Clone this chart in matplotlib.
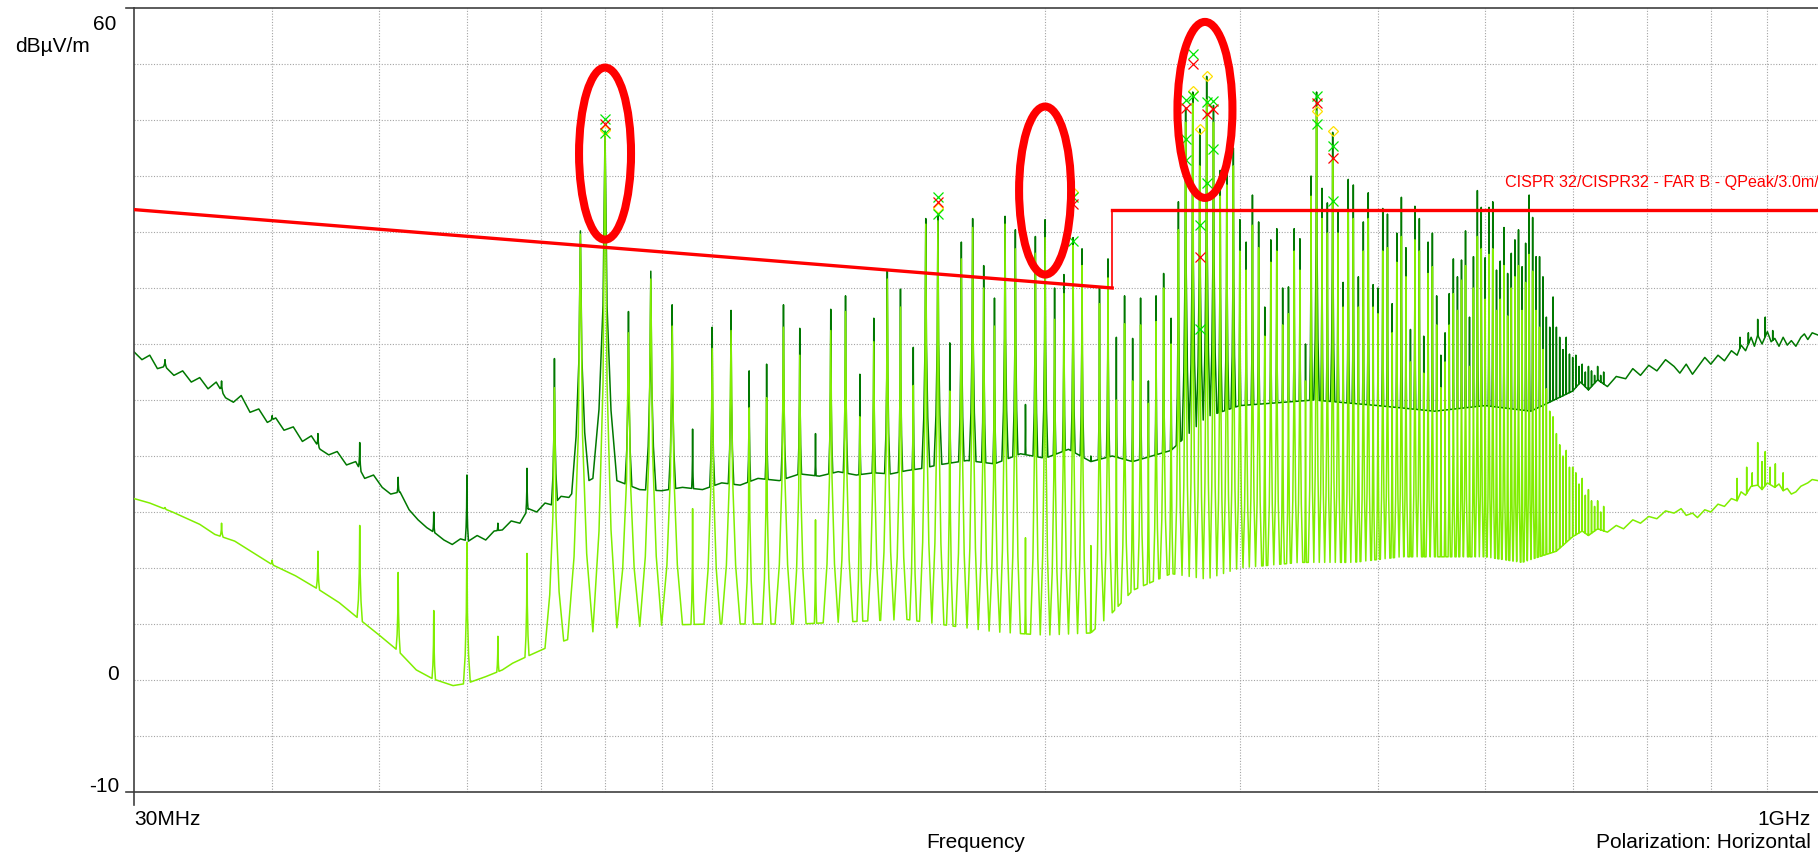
"""
Radiated emission scan 30 MHz - 1 GHz (horizontal polarization) against the CISPR 32 FAR class B limit.
"""
import numpy as np
import matplotlib
matplotlib.use("Agg")
import matplotlib.pyplot as plt
from matplotlib.patches import Ellipse
from matplotlib.transforms import ScaledTranslation, blended_transform_factory

plt.rcParams['font.family'] = ['Liberation Sans', 'DejaVu Sans']

# ---- data (MHz / dBuV/m) ----
limit_f = [30, 230, 230, 1000]
limit_db = [42.0, 35.0, 42.0, 42.0]

# background level of the peak trace (dark green)
pk_floor_f = [30.0, 30.5, 31.0, 31.5, 32.0, 32.6, 33.2, 33.8, 34.4, 35.0,
              35.6, 36.3, 36.9, 37.5, 38.2, 38.9, 39.6, 40.3, 41.0, 41.8,
              42.6, 43.4, 44.2, 45.0, 45.8, 46.7, 47.6, 48.5, 49.4, 50.3,
              51.2, 52.2, 53.2, 54.2, 55.2, 56.2, 57.2, 58.2, 59.2, 60.2,
              61.3, 62.4, 63.5, 64.6, 65.8, 67.0, 68.2, 69.4, 70.6, 71.8,
              73.0, 74.2, 75.4, 78.0, 82.0, 86.0, 90.0, 94.0, 98.0, 102.0,
              106.0, 110.0, 115.0, 120.0, 125.0, 130.0, 135.0, 140.0, 145.0, 150.0,
              155.0, 160.0, 170.0, 180.0, 190.0, 200.0, 210.0, 220.0, 230.0, 240.0,
              260.0, 280.0, 300.0, 350.0, 400.0, 450.0, 500.0, 550.0, 600.0, 610.0,
              620.0, 632.0, 645.0, 657.0, 670.0, 680.0, 691.0, 703.0, 715.0, 728.0,
              741.0, 750.0, 760.0, 770.0, 778.0, 790.0, 800.0, 812.0, 823.0, 835.0,
              845.0, 852.0, 860.0, 870.0, 876.0, 882.0, 890.0, 900.0, 907.0, 914.0,
              922.0, 930.0, 938.0, 946.0, 955.0, 965.0, 972.0, 979.0, 988.0, 1000.0]
pk_floor_db = [29.3, 28.6, 29.0, 27.8, 28.0, 27.2, 27.6, 26.6, 27.0, 26.0,
               26.6, 25.2, 24.8, 25.4, 23.9, 24.2, 23.0, 23.4, 22.3, 22.6,
               21.3, 21.8, 20.6, 20.1, 20.4, 19.2, 19.5, 18.0, 18.3, 17.2,
               16.6, 16.8, 15.2, 14.3, 13.6, 13.1, 12.5, 12.1, 12.6, 12.4,
               12.9, 12.5, 13.3, 13.4, 14.2, 14.0, 15.3, 15.0, 15.8, 15.6,
               16.4, 16.3, 17.2, 18.0, 17.8, 17.0, 16.9, 17.2, 17.0, 17.6,
               17.4, 18.0, 17.8, 18.4, 18.2, 18.6, 18.3, 18.5, 18.4, 18.7,
               18.9, 19.2, 19.6, 19.3, 20.2, 19.8, 20.6, 19.5, 20.0, 19.5,
               20.5, 23.5, 24.5, 25.0, 24.5, 24.0, 24.5, 24.0, 25.8, 26.6,
               25.9, 26.8, 26.2, 27.1, 26.9, 27.8, 27.2, 28.1, 27.6, 28.6,
               28.0, 27.4, 28.2, 27.3, 27.9, 28.8, 28.2, 29.0, 28.5, 29.4,
               29.0, 29.9, 29.4, 30.6, 29.8, 30.8, 30.0, 31.1, 30.2, 30.5,
               29.8, 30.6, 29.9, 30.3, 29.8, 30.6, 30.9, 30.4, 31.0, 30.8]

# background level of the second trace (light green)
av_floor_f = [30.0, 31.0, 32.5, 34.4, 35.5, 37.0, 40.0, 42.0, 44.2, 46.0,
              48.0, 50.0, 52.0, 54.0, 55.9, 57.5, 58.3, 60.0, 62.4, 64.6,
              66.0, 68.0, 70.5, 73.0, 76.0, 80.0, 90.0, 100.0, 120.0, 140.0,
              150.0, 160.0, 180.0, 200.0, 220.0, 230.0, 240.0, 260.0, 280.0, 300.0,
              340.0, 380.0, 420.0, 460.0, 500.0, 540.0, 580.0, 600.0, 612.0, 620.0,
              632.0, 645.0, 657.0, 667.0, 680.0, 691.0, 703.0, 715.0, 728.0, 741.0,
              752.0, 760.0, 770.0, 778.0, 790.0, 800.0, 812.0, 823.0, 835.0, 845.0,
              852.0, 860.0, 870.0, 882.0, 890.0, 900.0, 914.0, 922.0, 930.0, 938.0,
              946.0, 955.0, 965.0, 979.0, 988.0, 1000.0]
av_floor_db = [16.2, 15.8, 15.0, 13.9, 13.0, 12.4, 10.3, 9.3, 8.0, 6.9,
               5.4, 4.0, 2.6, 0.9, 0.1, -0.3, -0.5, -0.3, 0.3, 0.9,
               1.5, 2.1, 2.8, 3.4, 4.0, 4.6, 4.9, 5.0, 5.0, 5.3,
               5.4, 5.0, 4.3, 4.0, 4.2, 6.0, 8.0, 9.5, 9.0, 10.0,
               10.5, 10.5, 11.0, 11.0, 11.0, 10.5, 11.5, 12.8, 13.3, 12.9,
               13.5, 13.2, 13.8, 13.5, 14.3, 14.0, 14.6, 14.4, 15.1, 14.9,
               15.3, 14.7, 14.9, 14.5, 15.2, 15.0, 15.7, 15.5, 16.2, 16.0,
               16.8, 16.5, 17.3, 17.4, 17.0, 17.6, 17.2, 17.5, 16.9, 17.1,
               16.6, 16.8, 17.3, 17.6, 17.9, 17.8]

# harmonic comb (4 MHz spacing)
comb_f = [32, 36, 40, 44, 48, 52, 56, 60, 64, 68,
          72, 76, 80, 84, 88, 92, 96, 100, 104, 108,
          112, 116, 120, 124, 128, 132, 136, 140, 144, 148,
          152, 156, 160, 164, 168, 172, 176, 180, 184, 188,
          192, 196, 200, 204, 208, 212, 216, 220, 224, 228,
          232, 236, 240, 244, 248, 252, 256, 260, 264, 268,
          272, 276, 280, 284, 288, 292, 296, 300, 304, 308,
          312, 316, 320, 324, 328, 332, 336, 340, 344, 348,
          352, 356, 360, 364, 368, 372, 376, 380, 384, 388,
          392, 396, 400, 404, 408, 412, 416, 420, 424, 428,
          432, 436, 440, 444, 448, 452, 456, 460, 464, 468,
          472, 476, 480, 484, 488, 492, 496, 500, 504, 508,
          512, 516, 520, 524, 528, 532, 536, 540, 544, 548,
          552, 556, 560, 564, 568, 572, 576, 580, 584, 588,
          592, 596, 600, 604, 608, 612, 616, 620, 624, 628,
          632, 636, 640]
comb_pk = [28.6, 26.7, 23.6, 22.0, 21.2, 18.1, 15.0, 18.3, 14.0, 18.9,
           28.7, 40.1, 49.0, 32.9, 36.5, 33.5, 22.4, 31.5, 33.0, 27.6,
           28.2, 33.5, 31.4, 22.0, 33.1, 34.3, 27.3, 32.3, 36.6, 34.9,
           29.7, 41.2, 41.5, 30.1, 39.1, 41.2, 37.0, 34.1, 41.4, 40.2,
           24.6, 39.6, 41.1, 35.0, 36.2, 39.5, 38.5, 20.0, 35.0, 37.6,
           30.6, 34.3, 30.5, 34.1, 26.7, 34.3, 36.3, 32.3, 42.7, 51.1,
           52.5, 49.2, 53.9, 51.3, 45.5, 46.2, 47.5, 41.1, 39.1, 43.3,
           40.9, 33.3, 39.3, 40.3, 35.0, 35.1, 40.3, 39.4, 30.0, 45.0,
           52.5, 43.9, 42.6, 48.9, 41.9, 35.5, 44.7, 44.2, 36.0, 40.9,
           43.5, 35.3, 35.0, 42.1, 41.6, 33.6, 39.9, 43.1, 38.6, 31.3,
           42.3, 41.2, 30.7, 39.1, 39.9, 34.3, 29.0, 31.0, 34.5, 37.6,
           36.0, 37.5, 40.1, 32.4, 37.8, 43.7, 42.2, 37.7, 42.2, 42.7,
           36.6, 37.4, 40.4, 36.3, 38.1, 39.3, 40.2, 36.9, 39.0, 43.3,
           41.3, 37.8, 37.8, 36.0, 32.4, 31.5, 34.2, 31.5, 30.6, 29.5,
           30.6, 29.1, 28.8, 29.0, 28.0, 28.2, 27.5, 28.0, 27.6, 27.2,
           28.0, 27.2, 27.5]
comb_av = [15.4, 14.0, 10.7, 11.5, 13.8, 9.6, 6.2, 12.3, 3.9, 11.3,
           26.1, 39.8, 48.6, 31.0, 35.8, 31.6, 15.3, 29.6, 31.2, 24.3,
           25.2, 31.5, 29.0, 14.3, 31.2, 32.9, 23.5, 30.2, 35.8, 33.3,
           26.3, 40.7, 41.0, 25.8, 37.6, 40.4, 35.0, 31.6, 40.7, 38.5,
           12.7, 38.1, 39.5, 32.2, 34.5, 38.8, 37.0, 12.0, 33.6, 35.9,
           25.0, 31.8, 26.7, 31.7, 24.7, 32.0, 35.0, 30.0, 40.2, 49.8,
           51.5, 45.9, 51.8, 49.8, 43.2, 44.2, 45.9, 38.3, 36.6, 40.6,
           38.6, 30.7, 37.3, 38.3, 31.7, 32.7, 38.3, 36.6, 26.7, 43.2,
           50.8, 41.2, 39.9, 46.5, 39.9, 33.3, 41.9, 41.2, 33.3, 38.3,
           41.2, 33.3, 32.7, 38.3, 38.6, 31.0, 37.3, 39.6, 36.0, 28.4,
           39.3, 38.3, 27.4, 36.3, 36.9, 31.7, 26.1, 28.4, 31.7, 34.5,
           33.0, 35.7, 37.0, 28.0, 35.0, 39.6, 38.5, 34.0, 38.0, 38.5,
           33.0, 34.0, 37.0, 32.5, 35.0, 36.0, 37.0, 33.0, 35.5, 38.0,
           36.5, 33.0, 31.5, 29.5, 26.0, 24.0, 23.5, 22.0, 21.0, 20.0,
           20.5, 19.0, 19.0, 18.5, 17.5, 18.0, 16.5, 17.0, 16.0, 15.5,
           16.0, 15.0, 15.5]

# isolated spurs in the upper band
pk_spur_f = [850, 865, 882, 896, 910]
pk_spur_db = [30.6, 31.0, 32.2, 32.4, 31.2]
av_spur_f = [845, 862, 872, 882, 890, 896, 905, 915, 930]
av_spur_db = [18.0, 19.0, 18.5, 21.2, 19.5, 20.4, 19.0, 19.3, 18.5]

# final measurement markers
green_f = [80, 80, 160, 160, 212, 212, 268, 268, 268, 272, 272, 276, 276, 280, 280, 284, 284, 352, 352, 364, 364]
green_db = [50.1, 48.8, 43.1, 41.6, 43.1, 39.2, 51.8, 48.3, 46.4, 55.9, 52.1, 40.6, 31.3,
            51.6, 44.4, 51.7, 47.4, 52.1, 49.6, 47.7, 42.8]
red_f = [80, 160, 212, 268, 272, 276, 280, 284, 352, 364]
red_db = [49.6, 42.7, 42.5, 51.1, 55.0, 37.8, 50.5, 51.0, 51.5, 46.6]
yellow_f = [80, 160, 212, 272, 276, 280, 352, 364]
yellow_db = [49.1, 42.1, 43.6, 52.6, 49.2, 53.9, 50.8, 49.0]

# hand-drawn red rings (centre MHz, centre dB, width in, height in)
ring_f = [80, 200, 279]
ring_db = [47.0, 43.7, 50.9]
ring_w = [0.52, 0.52, 0.55]
ring_h = [1.72, 1.68, 1.76]

vgrid_f = [40, 50, 60, 70, 80, 90, 100, 200, 300, 400, 500, 600, 700, 800, 900]
hgrid_db = [-5, 0, 5, 10, 15, 20, 25, 30, 35, 40, 45, 50, 55]


def floor_at(f, floor_f, floor_db):
    return np.interp(np.log10(f), np.log10(floor_f), floor_db)


def build_trace(floor_f, floor_db, peak_f, peak_db):
    """merge background knots and narrow resonance-like spikes into one polyline"""
    xs, ys, windows = [], [], []
    for f, top in zip(peak_f, peak_db):
        h = max(top - floor_at(f, floor_f, floor_db), 0.0)
        half = min(2.0, 0.1 * 10 ** (h / 20))
        for step, frac in ((-1, 0), (-0.5, 0.2), (-1 / 6, 0.5), (0, 1), (1 / 6, 0.5), (0.5, 0.2), (1, 0)):
            fx = f + step * half
            base = floor_at(fx, floor_f, floor_db)
            xs.append(fx)
            ys.append(base + frac * (top - base))
        windows.append((f - half, f + half))
    for f, v in zip(floor_f, floor_db):
        if not any(lo <= f <= hi for lo, hi in windows):
            xs.append(f)
            ys.append(v)
    order = np.argsort(xs, kind="stable")
    return np.array(xs)[order], np.array(ys)[order]


assert len(comb_f) == len(comb_pk) == len(comb_av)

fig = plt.figure(figsize=(18.18, 8.55), dpi=100)
ax = fig.add_axes([134 / 1818, 63 / 855, 1684 / 1818, 784 / 855])
ax.set_xscale("log")
ax.set_xlim(30, 1000)
ax.set_ylim(-10, 60)

ax.set_xticks(vgrid_f)
ax.set_xticks([], minor=True)
ax.set_yticks(hgrid_db)
ax.tick_params(which="both", length=0, labelbottom=False, labelleft=False)
ax.grid(True, color="#a4a4a4", linestyle=(0, (1, 1.5)), linewidth=0.8)
ax.set_axisbelow(True)
for side in ("left", "bottom", "top"):
    ax.spines[side].set_color("#404040")
    ax.spines[side].set_linewidth(1.2)
ax.spines["right"].set_visible(False)

pk_x, pk_y = build_trace(pk_floor_f, pk_floor_db, comb_f + pk_spur_f, comb_pk + pk_spur_db)
av_x, av_y = build_trace(av_floor_f, av_floor_db, comb_f + av_spur_f, comb_av + av_spur_db)
ax.plot(pk_x, pk_y, color="#007800", lw=1.1, zorder=2)
ax.plot(av_x, av_y, color="#80ee00", lw=1.1, zorder=3)

# limit line, the step itself is drawn thin
ax.plot(limit_f[:2], limit_db[:2], color="#ff0000", lw=2.4, zorder=4)
ax.plot(limit_f[2:], limit_db[2:], color="#ff0000", lw=2.4, zorder=4)
ax.plot(limit_f[1:3], limit_db[1:3], color="#ff0000", lw=1.2, zorder=4)
ax.text(521, 44.0, "CISPR 32/CISPR32 - FAR B - QPeak/3.0m/", color="#ff0000",
        fontsize=11.6, ha="left", va="baseline", zorder=5, clip_on=True)

ax.plot(yellow_f, yellow_db, linestyle="none", marker="D", ms=5, mfc="none", mec="#ffe000", mew=0.9, zorder=6)
ax.plot(green_f, green_db, linestyle="none", marker="x", ms=7, mec="#00e600", mew=0.9, zorder=6)
ax.plot(red_f, red_db, linestyle="none", marker="x", ms=7, mec="#ff0000", mew=0.9, zorder=7)

for f, db, w, h in zip(ring_f, ring_db, ring_w, ring_h):
    tr = fig.dpi_scale_trans + ScaledTranslation(f, db, ax.transData)
    ax.add_patch(Ellipse((0, 0), w, h, transform=tr, fill=False, ec="#ff0000", lw=5.8, zorder=10, clip_on=False))

# axis end ticks and labels
ytrans = blended_transform_factory(ax.transAxes, ax.transData)
xtrans = blended_transform_factory(ax.transData, ax.transAxes)
for v in (60, -10):
    ax.plot([-0.0045, 0], [v, v], transform=ytrans, color="#404040", lw=1.2, clip_on=False)
ax.plot([30, 30], [0, -0.017], transform=xtrans, color="#404040", lw=1.2, clip_on=False)

fs = 15
ax.text(-0.0107, 59.4, "60", transform=ytrans, ha="right", va="top", fontsize=fs)
ax.text(-0.0089, 0, "0", transform=ytrans, ha="right", va="baseline", fontsize=fs)
ax.text(-0.0089, -10, "-10", transform=ytrans, ha="right", va="baseline", fontsize=fs)
fig.text(15 / 1818, 1 - 52 / 855, "dBµV/m", ha="left", va="baseline", fontsize=fs)
fig.text(134 / 1818, 1 - 825 / 855, "30MHz", ha="left", va="baseline", fontsize=fs)
fig.text(1811 / 1818, 1 - 825 / 855, "1GHz", ha="right", va="baseline", fontsize=fs)
fig.text(976 / 1818, 1 - 848 / 855, "Frequency", ha="center", va="baseline", fontsize=fs)
fig.text(1811 / 1818, 1 - 848 / 855, "Polarization: Horizontal", ha="right", va="baseline", fontsize=fs)

fig.savefig("out.png", dpi=100)
